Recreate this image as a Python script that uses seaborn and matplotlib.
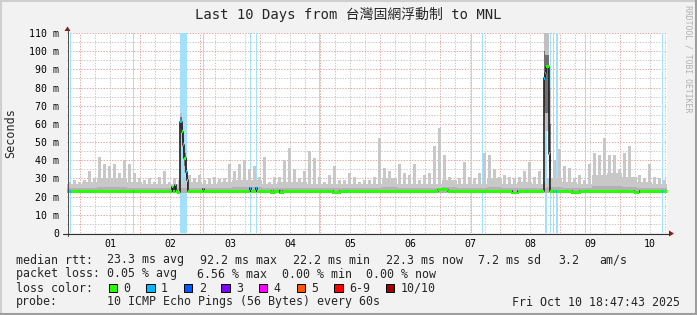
import numpy as np
import pandas as pd
import matplotlib
matplotlib.use("Agg")
import matplotlib.pyplot as plt
import matplotlib.dates as mdates
from matplotlib.patches import Rectangle, Polygon
from matplotlib.lines import Line2D
import seaborn as sns

W, H = 697, 315
sns.set_theme(style="white")
plt.rcParams["font.family"] = ["DejaVu Sans Mono", "Noto Sans CJK TC"]
plt.rcParams["lines.scale_dashes"] = False

# ---------------- data ----------------
title = "Last 10 Days from 台灣固網浮動制 to MNL"
start = pd.Timestamp("2025-09-30 18:47:43")
end = pd.Timestamp("2025-10-10 18:47:43")
day_labels = ["01", "02", "03", "04", "05", "06", "07", "08", "09", "10"]
ytick_vals = [0, 10, 20, 30, 40, 50, 60, 70, 80, 90, 100, 110]
ytick_labels = ["0", "10 m", "20 m", "30 m", "40 m", "50 m", "60 m", "70 m",
                "80 m", "90 m", "100 m", "110 m"]

smoke_floor = 22.2  # ms, min rtt
# smoke peaks, 2-hour bins from start (ms)
smoke_peak = [28, 29, 28, 29, 34, 30, 42, 38, 37, 38, 33, 40, 38, 33, 30, 29, 30, 28, 31, 34,
              28, 30, 29, 30, 32, 30, 32, 29, 30, 31,
              29.5, 30, 38, 34, 38, 40, 35, 37, 31, 42, 28, 31, 31, 40, 47, 35, 30, 34, 45, 41,
              31, 28, 32, 37, 29, 29, 33, 31, 28, 29,
              29, 31, 52, 36, 34, 29, 38, 33, 32, 38, 29, 32, 33, 48, 58, 43, 31, 29, 30, 39,
              31, 30, 33, 44, 43, 35, 31, 32, 31, 30,
              31, 34, 39, 31, 34, 28, 28, 40, 46, 37, 36, 30, 32, 29, 38, 44, 43, 52, 43, 43,
              35, 44, 48, 31, 32, 30, 38, 31, 30, 29]
# dense smoke body, 6-hour bins (ms)
smoke_body = [27, 28, 30, 30, 28, 27, 27, 27, 28, 27, 28, 29, 29, 27, 28, 28, 27, 27, 27, 27,
              27, 30, 27, 27, 27, 29, 27, 27, 30, 27, 28, 27, 30, 28, 27, 32, 33, 31, 28, 27]
# darker smoke near the median, 6-hour bins (ms)
smoke_dark = [24.5, 25, 25.5, 25.5, 24.5, 24.5, 24.5, 24.5, 25, 24.5, 25, 25.5, 25.5, 24.5, 25, 24.5,
              24.5, 24.5, 24.5, 24.5, 24.5, 25.5, 24.5, 24.5, 24.5, 25.5, 24.5, 24.5, 25.5, 24.5,
              25, 24.5, 25.5, 25, 24.5, 26, 26, 25.5, 25, 24.5]

# smoke during the two latency spikes: start h, end h, low, high, dark low, dark high
spike_h0 = [45.2, 45.9, 46.5, 46.9, 47.5, 48.1, 190.9, 191.2, 192.9]
spike_h1 = [45.9, 46.5, 46.9, 47.5, 48.1, 48.5, 191.2, 192.9, 193.5]
spike_lo = [52, 47, 40, 33, 28, 24, 62, 56, 28]
spike_hi = [66, 62, 55, 47, 40, 33, 112, 112, 80]
spike_dlo = [57, 51, 44, 37, 31, 25, 70, 66, 36]
spike_dhi = [64, 59, 52, 44, 36, 30, 100, 98, 60]

# median rtt step changes: hour from start, value (ms), loss count
median_h = [0.0, 1.2, 1.6, 26.4, 26.8, 42.0, 42.4, 43.2, 43.6, 44.0, 45.2, 45.9, 46.5, 46.9,
            47.5, 47.7, 48.1, 48.5, 54.4, 54.8, 73.4, 73.8, 75.6, 76.0, 81.6, 83.0, 85.0, 86.6,
            88.4, 106.4, 109.2, 148.4, 152.4, 178.0, 180.4, 190.9, 191.2, 191.6, 192.9, 193.3,
            194.3, 194.7, 195.6, 196.0, 202.0, 205.2, 227.0, 229.0, 238.0, 238.4]
median_v = [23.0, 23.0, 23.0, 23.0, 23.0, 25.3, 23.0, 26.4, 23.0, 22.4, 61.3, 55.8, 48.5, 41.0,
            36.5, 33.8, 29.0, 23.0, 24.0, 23.0, 24.6, 23.0, 24.6, 23.0, 22.2, 23.0, 22.2, 23.0,
            23.0, 22.2, 23.0, 23.7, 23.0, 22.0, 23.0, 85.0, 88.0, 91.5, 43.5, 23.0,
            23.0, 23.0, 23.0, 23.0, 22.2, 23.0, 22.4, 23.0, 23.0, 23.0]
median_loss = [0, 1, 0, 1, 0, 0, 0, 0, 0, 0, 1, 0, 1, 0,
               1, 1, 0, 0, 1, 0, 1, 0, 1, 0, 0, 0, 0, 0,
               0, 0, 0, 0, 0, 0, 0, 1, 1, 0, 0, 0,
               1, 0, 1, 0, 0, 0, 0, 0, 1, 0]

# loss events (background bands): start hour, duration hours
loss_h = [1.2, 26.4, 45.2, 54.4, 73.4, 75.6, 101.0, 161.6, 166.0, 191.1, 193.0, 194.3, 195.6, 207.4, 238.0]
loss_d = [0.4, 0.4, 2.8, 0.4, 0.4, 0.4, 0.4, 0.4, 0.4, 0.8, 0.5, 0.5, 0.8, 0.4, 0.4]

loss_labels = ["0", "1", "2", "3", "4", "5", "6-9", "10/10"]
loss_colors = ["#26ff00", "#00b8ff", "#0059ff", "#7e00ff", "#ff00ff", "#ff5500", "#ff0000", "#a10000"]

stats_rtt = ["23.3 ms avg", "92.2 ms max", "22.2 ms min", "22.3 ms now", "7.2 ms sd", "3.2", "am/s"]
stats_loss = ["0.05 % avg", "6.56 % max", "0.00 % min", "0.00 % now"]
probe_text = "10 ICMP Echo Pings (56 Bytes) every 60s"
stamp_text = "Fri Oct 10 18:47:43 2025"

# ---------------- figure ----------------
def fx(x):
    return x / W

def fy(y):
    return 1 - y / H

fig = plt.figure(figsize=(W / 100, H / 100), dpi=100, facecolor="#f2f2f2")
ax = fig.add_axes([fx(67), fy(233), 600 / W, 200 / H])
ax.set_facecolor("white")
for s in ax.spines.values():
    s.set_visible(False)

t0 = mdates.date2num(start)
t1 = mdates.date2num(end)

def hx(h):
    return t0 + np.asarray(h, dtype=float) / 24.0

ax.set_xlim(t0, t1)
ax.set_ylim(0, 110)

RED_GRID = "#e2a6a6"
GRAY_GRID = "#c8c8c8"
# grid
grid_times = pd.date_range(start.ceil("6h"), end, freq="6h")
for gt in grid_times:
    major = gt.hour == 0
    ax.axvline(mdates.date2num(gt), color=RED_GRID if major else GRAY_GRID,
               lw=0.7, dashes=(1, 1), zorder=0.5)
for v in range(5, 111, 5):
    major = v % 10 == 0
    ax.axhline(v, color=RED_GRID if major else GRAY_GRID, lw=0.7, dashes=(1, 1), zorder=0.5)

# loss backgrounds
for h0, d in zip(loss_h, loss_d):
    ax.axvspan(hx(h0), hx(h0 + d), color="#a3e0fb", lw=0, zorder=1)

# smoke body + peaks + dark core
body_x = hx(np.arange(len(smoke_body)) * 6)
ax.bar(body_x, np.array(smoke_body) - smoke_floor, bottom=smoke_floor, width=6 / 24,
       align="edge", color="#c8c8c8", lw=0, zorder=2)
peak_x = hx(np.arange(len(smoke_peak)) * 2 + 0.3)
ax.bar(peak_x, np.array(smoke_peak) - smoke_floor, bottom=smoke_floor, width=1.4 / 24,
       align="edge", color="#c8c8c8", lw=0, zorder=2)
ax.bar(body_x, np.array(smoke_dark) - smoke_floor, bottom=smoke_floor, width=6 / 24,
       align="edge", color="#b2b2b2", lw=0, zorder=2.1)

# spike smoke
sh0 = np.array(spike_h0); sh1 = np.array(spike_h1)
ax.bar(hx(sh0), np.array(spike_hi) - np.array(spike_lo), bottom=spike_lo,
       width=(sh1 - sh0) / 24, align="edge", color="#c0c0c0", lw=0, zorder=2.2)
ax.bar(hx(sh0), np.array(spike_dhi) - np.array(spike_dlo), bottom=spike_dlo,
       width=(sh1 - sh0) / 24, align="edge", color="#707070", lw=0, zorder=2.3)

# median line (dark) with steps
mh = list(median_h) + [240.0]
mv = list(median_v) + [median_v[-1]]
sns.lineplot(x=hx(mh), y=mv, drawstyle="steps-post", color="#202020", linewidth=1.2,
             ax=ax, estimator=None, sort=False, zorder=3)

# loss-coloured median
mh_arr = np.array(mh)
widths = (mh_arr[1:] - mh_arr[:-1]) / 24
cols = [loss_colors[l] for l in median_loss]
ax.bar(hx(mh_arr[:-1]), 1.6, bottom=np.array(median_v) - 0.8, width=widths, align="edge",
       color=cols, lw=0, zorder=4)

# ticks
noon = [pd.Timestamp(f"2025-10-{d} 12:00") for d in day_labels]
ax.set_xticks([mdates.date2num(n) for n in noon])
ax.set_xticklabels(day_labels, fontsize=7.1)
ax.set_yticks(ytick_vals)
ax.set_yticklabels(ytick_labels, fontsize=7.1)
ax.tick_params(axis="x", length=0, pad=4.3, colors="black")
ax.tick_params(axis="y", length=2, pad=3.6, colors="black", width=0.6)
for t in ax.yaxis.get_ticklines():
    t.set_color("#a0a0a0")
ax.grid(False)

# axis lines + arrows
fig.add_artist(Line2D([fx(67.5), fx(67.5)], [fy(236), fy(30)], color="#505050", lw=0.8))
fig.add_artist(Line2D([fx(63), fx(669)], [fy(233.5), fy(233.5)], color="#303030", lw=0.8))
fig.add_artist(Polygon([(fx(64.5), fy(31)), (fx(70.5), fy(31)), (fx(67.5), fy(26.5))],
                       closed=True, transform=fig.transFigure, color="#8b1a1a", lw=0))
fig.add_artist(Polygon([(fx(669), fy(230.5)), (fx(669), fy(236.5)), (fx(674), fy(233.5))],
                       closed=True, transform=fig.transFigure, color="#8b1a1a", lw=0))

# title and side texts
fig.text(fx(348), fy(19), title, fontsize=10, ha="center", va="baseline",
         family=["DejaVu Sans Mono", "Noto Sans CJK TC"])
fig.text(fx(10.5), fy(133), "Seconds", fontsize=8.5, rotation=90, ha="center", va="center")
fig.text(fx(688), fy(5), "RRDTOOL / TOBI OETIKER", fontsize=5.9, rotation=270,
         ha="center", va="top", color="#b0b0b0")

# legend
LF = 8.4
fig.text(fx(16), fy(263.5), "median rtt:", fontsize=LF, va="baseline")
for x, s in zip([107, 200, 293, 386, 478, 558, 599], stats_rtt):
    fig.text(fx(x), fy(263.5), s, fontsize=LF, va="baseline")
fig.text(fx(16), fy(277.5), "packet loss:", fontsize=LF, va="baseline")
for x, s in zip([107, 197, 282, 366], stats_loss):
    fig.text(fx(x), fy(277.5), s, fontsize=LF, va="baseline")
fig.text(fx(16), fy(291.5), "loss color:", fontsize=LF, va="baseline")
sx = 108.5
for lab, col in zip(loss_labels, loss_colors):
    fig.add_artist(Rectangle((fx(sx), fy(292)), 8.5 / W, 8.5 / H, transform=fig.transFigure,
                             facecolor=col, edgecolor="black", lw=0.7))
    lx = sx + 15
    fig.text(fx(lx), fy(291.5), lab, fontsize=LF, va="baseline")
    sx = lx + len(lab) * 7.1 + 15.5
fig.text(fx(16), fy(305.5), "probe:", fontsize=LF, va="baseline")
fig.text(fx(107), fy(305.5), probe_text, fontsize=LF, va="baseline")
fig.text(fx(680), fy(305.5), stamp_text, fontsize=LF, va="baseline", ha="right")

# 3D frame
fig.add_artist(Line2D([0, 1], [fy(0.75), fy(0.75)], color="#cfcfcf", lw=1.5))
fig.add_artist(Line2D([fx(0.75), fx(0.75)], [0, 1], color="#cfcfcf", lw=1.5))
fig.add_artist(Line2D([0, 1], [fy(314), fy(314)], color="#9e9e9e", lw=1.5))
fig.add_artist(Line2D([fx(696), fx(696)], [0, 1], color="#9e9e9e", lw=1.5))

fig.savefig("out.png", dpi=100, facecolor=fig.get_facecolor())
